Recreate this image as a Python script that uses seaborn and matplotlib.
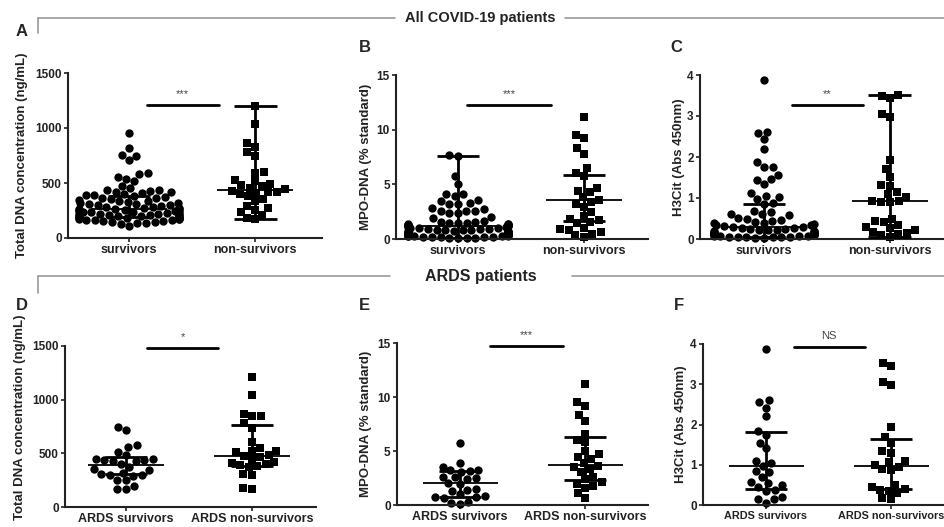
"""
Circulating DNA, MPO-DNA and H3Cit in survivors vs non-survivors:
all COVID-19 patients (top row) and ARDS patients (bottom row).
"""
import warnings

import matplotlib.pyplot as plt
import numpy as np
import pandas as pd
import seaborn as sns

warnings.filterwarnings("ignore")

W, H = 944, 527

# ---- All COVID-19 patients ----
groups_all = ["survivors", "non-survivors"]

dna_surv = [955, 820, 755, 750, 710, 595, 585, 555, 535, 520, 470, 452, 438, 435,
            425, 420, 415, 405, 398, 392, 388, 380, 372, 366, 360, 352, 345, 340,
            335, 328, 322, 318, 312, 306, 300, 296, 290, 286, 280, 276, 272, 268,
            264, 260, 258, 254, 250, 246, 242, 238, 235, 232, 228, 225, 222, 219,
            216, 213, 210, 207, 204, 201, 198, 196, 193, 190, 188, 185, 182, 179,
            176, 173, 170, 167, 163, 160, 156, 152, 148, 143, 138, 132, 125, 105]
dna_nonsurv = [1200, 1040, 860, 830, 780, 745, 600, 595, 528, 515, 492, 478, 470,
               455, 448, 430, 422, 418, 410, 400, 380, 355, 332, 290, 270, 255, 240,
               212, 182, 170]
dna_stats = [(262, 195, 380), (438, 170, 1200)]  # median, low, high

mpo_surv = [7.65, 7.6, 5.75, 5.05, 4.15, 4.1, 3.9, 3.55, 3.5, 3.25, 3.2, 3.2, 2.8,
            2.75, 2.6, 2.55, 2.55, 2.4, 2.35, 2.0, 1.95, 1.62, 1.58, 1.52, 1.5, 1.46,
            1.44, 1.4, 1.38, 1.33, 1.3, 1.27, 1.24, 1.2, 1.18, 1.15, 1.1, 1.08, 1.05,
            1.0, 0.98, 0.95, 0.92, 0.9, 0.86, 0.83, 0.8, 0.78, 0.75, 0.72, 0.7, 0.67,
            0.64, 0.62, 0.6, 0.57, 0.55, 0.52, 0.5, 0.48, 0.46, 0.44, 0.42, 0.4, 0.38,
            0.36, 0.34, 0.32, 0.3, 0.28, 0.26, 0.24, 0.22, 0.2, 0.18, 0.16, 0.14,
            0.12, 0.1, 0.08, 0.05]
mpo_nonsurv = [11.2, 9.5, 9.2, 8.3, 7.8, 6.5, 6.05, 5.8, 4.7, 4.4, 4.3, 3.8, 3.6,
               3.4, 3.2, 2.9, 2.5, 2.1, 1.85, 1.7, 1.55, 1.5, 1.0, 0.9, 0.85, 0.62,
               0.5, 0.33, 0.2]
mpo_stats = [(1.2, 0.05, 7.6), (3.57, 1.68, 5.88)]

h3_surv = [3.88, 2.62, 2.58, 2.43, 2.2, 1.88, 1.76, 1.75, 1.57, 1.46, 1.45, 1.33,
           1.13, 1.06, 1.02, 0.98, 0.88, 0.86, 0.68, 0.66, 0.62, 0.6, 0.58, 0.52,
           0.5, 0.47, 0.45, 0.42, 0.4, 0.38, 0.36, 0.34, 0.33, 0.31, 0.3, 0.29, 0.28,
           0.26, 0.25, 0.24, 0.23, 0.22, 0.21, 0.2, 0.19, 0.18, 0.17, 0.16, 0.15,
           0.15, 0.14, 0.13, 0.12, 0.12, 0.11, 0.1, 0.1, 0.09, 0.08, 0.08, 0.07,
           0.07, 0.06, 0.06, 0.05, 0.05, 0.04, 0.04, 0.03, 0.03]
h3_nonsurv = [3.52, 3.5, 3.43, 3.04, 2.98, 1.93, 1.7, 1.52, 1.32, 1.3, 1.14, 1.1,
              1.02, 0.93, 0.92, 0.91, 0.9, 0.5, 0.44, 0.42, 0.34, 0.29, 0.27, 0.22,
              0.18, 0.15, 0.12, 0.1, 0.05]
h3_stats = [(0.3, 0.05, 0.86), (0.92, 0.05, 3.52)]

# ---- ARDS patients ----
groups_ards = ["ARDS survivors", "ARDS non-survivors"]

ards_dna_surv = [750, 715, 575, 560, 510, 485, 450, 445, 440, 438, 430, 425, 400,
                 372, 355, 345, 320, 310, 302, 298, 290, 255, 248, 200, 172, 165]
ards_dna_nonsurv = [1210, 1045, 870, 852, 848, 780, 740, 610, 550, 525, 520, 508,
                    480, 472, 470, 445, 420, 410, 400, 390, 382, 372, 310, 300, 180, 170]
ards_dna_stats = [(390, 305, 462), (478, 385, 760)]

ards_mpo_surv = [5.72, 3.93, 3.56, 3.28, 3.22, 3.15, 3.1, 2.6, 2.55, 2.5, 2.42, 2.02,
                 1.95, 1.5, 1.42, 1.32, 1.0, 0.8, 0.75, 0.7, 0.62, 0.32, 0.22, 0.12]
ards_mpo_nonsurv = [11.2, 9.5, 9.2, 8.35, 7.75, 6.6, 6.0, 5.8, 5.0, 4.7, 4.4, 4.3,
                    3.87, 3.65, 3.5, 3.3, 3.1, 2.6, 2.4, 2.1, 1.9, 1.8, 1.6, 1.08, 0.62]
ards_mpo_stats = [(2.0, 0.77, 3.15), (3.7, 2.32, 6.34)]

ards_h3_surv = [3.88, 2.61, 2.55, 2.42, 2.2, 1.85, 1.75, 1.55, 1.41, 1.1, 1.04, 0.98,
                0.85, 0.83, 0.7, 0.56, 0.55, 0.5, 0.45, 0.37, 0.35, 0.19, 0.15, 0.14, 0.05]
ards_h3_nonsurv = [3.53, 3.45, 3.05, 2.98, 1.95, 1.7, 1.55, 1.33, 1.3, 1.1, 1.08,
                   1.0, 0.95, 0.9, 0.88, 0.5, 0.45, 0.4, 0.38, 0.35, 0.3, 0.18, 0.15]
ards_h3_stats = [(0.97, 0.39, 1.82), (0.97, 0.4, 1.65)]

dna_label = "Total DNA concentration (ng/mL)"
mpo_label = "MPO-DNA (% standard)"
h3_label = "H3Cit (Abs 450nm)"


def px(x, y):
    return x / W, 1 - y / H


def panel(fig, box, label_pos, letter, groups, surv, nonsurv, stats, ymax, yticks,
          ylabel, sig, sig_x, sig_y, xlim, cat_size=9):
    left, top, right, bottom = box
    x0, y0 = px(left, bottom)
    ax = fig.add_axes([x0, y0, (right - left) / W, (bottom - top) / H])

    for vals, marker, label in [(surv, "o", groups[0]), (nonsurv, "s", groups[1])]:
        df = pd.DataFrame({"group": [label] * len(vals), "value": vals})
        sns.swarmplot(data=df, x="group", y="value", order=groups, ax=ax,
                      color="black", marker=marker, size=6, linewidth=0,
                      clip_on=False, zorder=2)

    # median with error bars
    for i, (med, lo, hi) in enumerate(stats):
        ax.hlines(med, i - 0.3, i + 0.3, color="black", lw=1.3, zorder=3)
        ax.vlines(i, lo, hi, color="black", lw=2.0, zorder=3)
        ax.hlines([lo, hi], i - 0.17, i + 0.17, color="black", lw=2.0, zorder=3)

    # significance bar
    ax.plot(sig_x, [sig_y, sig_y], color="black", lw=2.0, clip_on=False)
    ax.text(np.mean(sig_x), sig_y + ymax * 0.035, sig, ha="center", va="bottom",
            fontsize=8, color="#444444", clip_on=False)

    ax.set_xlim(*xlim)
    ax.set_ylim(0, ymax)
    ax.set_yticks(yticks)
    ax.set_xticks([0, 1])
    ax.tick_params(axis="both", direction="out", length=3, width=1.2,
                   pad=1.5, colors="#222222")
    ax.tick_params(axis="y", labelsize=8.5)
    ax.tick_params(axis="x", labelsize=cat_size)
    ax.set_xticklabels(groups, fontweight="bold", fontsize=cat_size, color="#222222")
    ax.set_xlabel("")
    ax.set_ylabel(ylabel, fontweight="bold", fontsize=9.5, color="#222222")
    ax.yaxis.set_label_coords(-(left - label_pos[0]) / (right - left), label_pos[1])
    for lbl in ax.get_yticklabels():
        lbl.set_fontweight("bold")
    sns.despine(ax=ax)
    for s in ["left", "bottom"]:
        ax.spines[s].set_linewidth(1.5)
        ax.spines[s].set_color("#222222")

    lx, ly = px(*letter[1:])
    fig.text(lx, ly, letter[0], fontsize=12, fontweight="bold", ha="left", va="center")
    return ax


sns.set_style("ticks")
plt.rcParams["font.family"] = ["Liberation Sans", "DejaVu Sans"]

fig = plt.figure(figsize=(W / 100, H / 100), dpi=100)

# box: left, top, right, bottom; then y label position (x of right edge, y fraction)
panel(fig, (68, 73, 322, 238), (28, 0.5), ("A", 16, 31), groups_all, dna_surv,
      dna_nonsurv, dna_stats, 1500, [0, 500, 1000, 1500], dna_label, "***",
      [0.14, 0.71], 1210, (-0.484, 1.53))
panel(fig, (396, 75, 648, 239), (372, 0.5), ("B", 359, 48), groups_all, mpo_surv,
      mpo_nonsurv, mpo_stats, 15, [0, 5, 10, 15], mpo_label, "***", [0.07, 0.74],
      12.25, (-0.492, 1.508))
panel(fig, (700, 75, 944, 239), (685, 0.5), ("C", 670, 48), groups_all, h3_surv,
      h3_nonsurv, h3_stats, 4, [0, 1, 2, 3, 4], h3_label, "**", [0.22, 0.79], 3.27,
      (-0.508, 1.43))
panel(fig, (65, 346, 316, 507), (26, 0.56), ("D", 16, 305), groups_ards, ards_dna_surv,
      ards_dna_nonsurv, ards_dna_stats, 1500, [0, 500, 1000, 1500], dna_label, "*",
      [0.17, 0.73], 1485, (-0.484, 1.508), cat_size=9)
panel(fig, (397, 343, 648, 505), (372, 0.5), ("E", 359, 305), groups_ards, ards_mpo_surv,
      ards_mpo_nonsurv, ards_mpo_stats, 15, [0, 5, 10, 15], mpo_label, "***",
      [0.24, 0.82], 14.7, (-0.504, 1.504), cat_size=9)
panel(fig, (703, 344, 944, 505), (687, 0.5), ("F", 674, 305), groups_ards, ards_h3_surv,
      ards_h3_nonsurv, ards_h3_stats, 4, [0, 1, 2, 3, 4], h3_label, "NS",
      [0.22, 0.79], 3.93, (-0.504, 1.424), cat_size=7.8)


# section headers with bracket lines
def header(text, y, gap, bracket_len, size):
    grey = "#9a9a9a"
    for xa, xb in [(38, gap[0]), (gap[1], 944)]:
        (a, ya), (b, _) = px(xa, y), px(xb, y)
        fig.add_artist(plt.Line2D([a, b], [ya, ya], color=grey, lw=1.2))
    (a, ya), (_, yb) = px(38, y), px(38, y + bracket_len)
    fig.add_artist(plt.Line2D([a, a], [ya, yb], color=grey, lw=1.2))
    tx, ty = px((gap[0] + gap[1]) / 2, y)
    fig.text(tx, ty, text, ha="center", va="center", fontsize=size,
             fontweight="bold", color="#222222")


header("All COVID-19 patients", 18, (395, 565), 15, 10.5)
header("ARDS patients", 276, (390, 572), 17, 11.5)

fig.savefig("out.png", dpi=100)
